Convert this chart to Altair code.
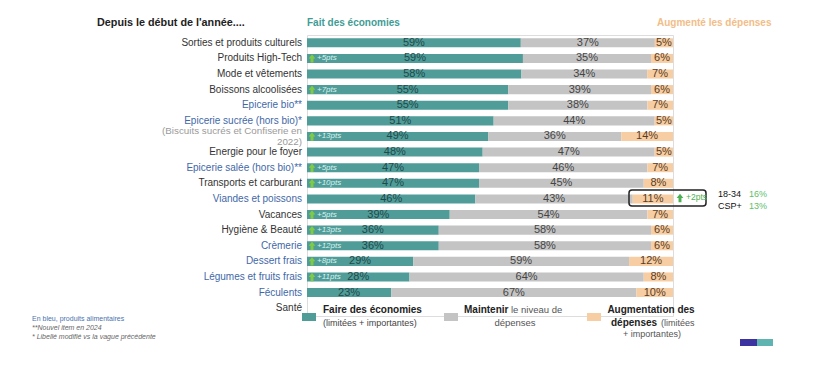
import altair as alt
import pandas as pd

# ---------------- data ----------------
categories = [
    "Sorties et produits culturels", "Produits High-Tech", "Mode et vêtements",
    "Boissons alcoolisées", "Epicerie bio**", "Epicerie sucrée (hors bio)*",
    "(Biscuits sucrés et Confiserie  en 2022)", "Energie pour le foyer",
    "Epicerie salée (hors bio)**", "Transports et carburant", "Viandes et poissons",
    "Vacances", "Hygiène & Beauté", "Crèmerie", "Dessert frais",
    "Légumes et fruits frais", "Féculents", "Santé",
]
display_labels = [
    "Sorties et produits culturels", "Produits High-Tech", "Mode et vêtements",
    "Boissons alcoolisées", "Epicerie bio**", "Epicerie sucrée (hors bio)*",
    "(Biscuits sucrés et Confiserie  en\n2022)", "Energie pour le foyer",
    "Epicerie salée (hors bio)**", "Transports et carburant", "Viandes et poissons",
    "Vacances", "Hygiène & Beauté", "Crèmerie", "Dessert frais",
    "Légumes et fruits frais", "Féculents", "Santé",
]
label_kind = ["autre", "autre", "autre", "autre", "alim", "alim", "note", "autre",
              "alim", "autre", "alim", "autre", "autre", "alim", "alim", "alim",
              "alim", "autre"]
economies = [59, 59, 58, 55, 55, 51, 49, 48, 47, 47, 46, 39, 36, 36, 29, 28, 23, None]
maintenir = [37, 35, 34, 39, 38, 44, 36, 47, 46, 45, 43, 54, 58, 58, 59, 64, 67, None]
augmentation = [5, 6, 7, 6, 7, 5, 14, 5, 7, 8, 11, 7, 6, 6, 12, 8, 10, None]
evolution_pts = [None, 5, None, 7, None, None, 13, None, 5, 10, None, 5, 13, 12, 8, 11, None, None]

series = ["Faire des économies", "Maintenir", "Augmentation"]
series_colors = ["#4f9c99", "#c4c4c4", "#f7cda3"]
label_colors = {"Faire des économies": "#1f4a49", "Maintenir": "#454545", "Augmentation": "#5a3c22"}
kind_colors = {"autre": "#333333", "alim": "#3f68a8", "note": "#9a9a9a"}

rows = []
for i, c in enumerate(categories):
    vals = [economies[i], maintenir[i], augmentation[i]]
    if vals[0] is None:
        continue
    for k, (s, v) in enumerate(zip(series, vals)):
        rows.append({"cat": c, "serie": s, "ordre": k, "val": v, "lab": f"{v}%"})
df = pd.DataFrame(rows)

lab_df = pd.DataFrame({"cat": categories, "txt": display_labels, "kind": label_kind})
badge_df = pd.DataFrame({"cat": [c for c, e in zip(categories, evolution_pts) if e],
                         "txt": [f"+{e}pts" for e in evolution_pts if e]})

FONT = "Liberation Sans"
W, H = 366, 281

yscale = alt.Scale(domain=categories, paddingInner=0.42, paddingOuter=0.21)
Y = alt.Y("cat:N", scale=yscale, axis=None)
xscale = alt.Scale(domain=[0, 1], nice=False, zero=True)

base = alt.Chart(df).transform_stack(
    stack="val", groupby=["cat"], sort=[alt.SortField("ordre")],
    as_=["x0", "x1"], offset="normalize"
).transform_calculate(mid="(datum.x0 + datum.x1) / 2")

bars = base.mark_bar().encode(
    y=Y,
    x=alt.X("x0:Q", scale=xscale, axis=None),
    x2="x1:Q",
    color=alt.Color("serie:N", scale=alt.Scale(domain=series, range=series_colors), legend=None),
)
vlabels = [
    base.transform_filter(alt.datum.serie == s).mark_text(
        font=FONT, fontSize=11, color=label_colors[s]
    ).encode(y=Y, x=alt.X("mid:Q", scale=xscale), text="lab:N")
    for s in series
]

cat_labels = []
for kind, col in kind_colors.items():
    cat_labels.append(
        alt.Chart(lab_df).transform_filter(alt.datum.kind == kind).mark_text(
            font=FONT, fontSize=(9.8 if kind == "note" else 10), align="right", baseline="middle",
            lineBreak="\n", lineHeight=11, color=col, dy=(-5 if kind == "note" else 0)
        ).encode(y=Y, x=alt.value(-5), text="txt:N")
    )

arrow_path = "M-0.35,1 L-0.35,0 L-0.8,0 L0,-1 L0.8,0 L0.35,0 L0.35,1 Z"
badge_arrow = alt.Chart(badge_df).mark_point(
    shape=arrow_path, filled=True, size=70, color="#7fcb45", opacity=1
).encode(y=Y, x=alt.value(5))
badge_text = alt.Chart(badge_df).mark_text(
    font=FONT, fontSize=8, fontStyle="italic", align="left", color="#d9f2ee"
).encode(y=Y, x=alt.value(10), text="txt:N")


def txt(s, x, y, size=10, color="#333333", weight="normal", align="left", style="normal"):
    return alt.Chart(pd.DataFrame({"t": [s]})).mark_text(
        font=FONT, fontSize=size, color=color, fontWeight=weight, align=align,
        baseline="middle", fontStyle=style
    ).encode(text="t:N", x=alt.value(x), y=alt.value(y))


def box(x, x2, y, y2, color, stroke=None, radius=0):
    kw = dict(color=color, cornerRadius=radius)
    if stroke:
        kw = dict(fill=None, filled=False, stroke=stroke, strokeWidth=1.5, cornerRadius=radius)
    return alt.Chart(pd.DataFrame({"a": [0]})).mark_rect(**kw).encode(
        x=alt.value(x), x2=alt.value(x2), y=alt.value(y), y2=alt.value(y2))


annots = [
    txt("Depuis le début de l'année....", -210, -12, size=10.8, color="#222222", weight="bold"),
    txt("Fait des économies", 0, -12, size=10, color="#3f9c94", weight="bold"),
    txt("Augmenté les dépenses", 350, -12, size=10, color="#f2bd88", weight="bold"),
    # encadré Viandes et poissons
    box(322, 399, 155, 171, None, stroke="#222222", radius=3),
    alt.Chart(pd.DataFrame({"a": [0]})).mark_point(
        shape=arrow_path, filled=True, size=70, color="#4caf50", opacity=1
    ).encode(x=alt.value(373), y=alt.value(163)),
    txt("+2pts", 379, 162, size=8.5, color="#4caf50"),
    txt("18-34", 411, 159, size=9, color="#111111"),
    txt("16%", 442, 159, size=9, color="#5cc06a"),
    txt("CSP+", 411, 171, size=9, color="#111111"),
    txt("13%", 442, 171, size=9, color="#5cc06a"),
    # légende
    box(-5, 9, 278, 286, "#4f9c99"),
    txt("Faire des économies", 16, 275, size=10, color="#222222", weight="bold"),
    txt("(limitées + importantes)", 16, 288, size=9, color="#444444"),
    box(137, 151, 278, 286, "#c4c4c4"),
    txt("Maintenir", 157, 275, size=10, color="#222222", weight="bold"),
    txt("le niveau de", 204, 275, size=9.5, color="#555555"),
    txt("dépenses", 208, 288, size=9.5, color="#555555", align="center"),
    box(280, 294, 278, 286, "#f7cda3"),
    txt("Augmentation des", 344, 275, size=10, color="#222222", weight="bold", align="center"),
    txt("dépenses", 304, 288, size=10, color="#222222", weight="bold"),
    txt("(limitées", 354, 288, size=9, color="#555555"),
    txt("+ importantes)", 345, 299, size=9, color="#555555", align="center"),
    # notes
    txt("En bleu, produits alimentaires", -275, 284, size=7, color="#4a72b0"),
    txt("**Nouvel item en 2024", -275, 293, size=7, color="#666666", style="italic"),
    txt("* Libellé modifié vs la vague précédente", -275, 302, size=7, color="#666666", style="italic"),
    # logo
    box(433, 450, 304, 311, "#3b33a0"),
    box(450, 466, 304, 311, "#5fb3b0"),
]

chart = alt.layer(bars, *vlabels, *cat_labels, badge_arrow, badge_text, *annots).properties(
    width=W, height=H,
    autosize=alt.AutoSizeParams(type="none"),
    padding={"left": 299, "top": 27, "right": 142, "bottom": 63},
).configure_view(stroke=None).configure(background="white")

chart.save("out.html", embed_options={"renderer": "svg", "actions": False})
